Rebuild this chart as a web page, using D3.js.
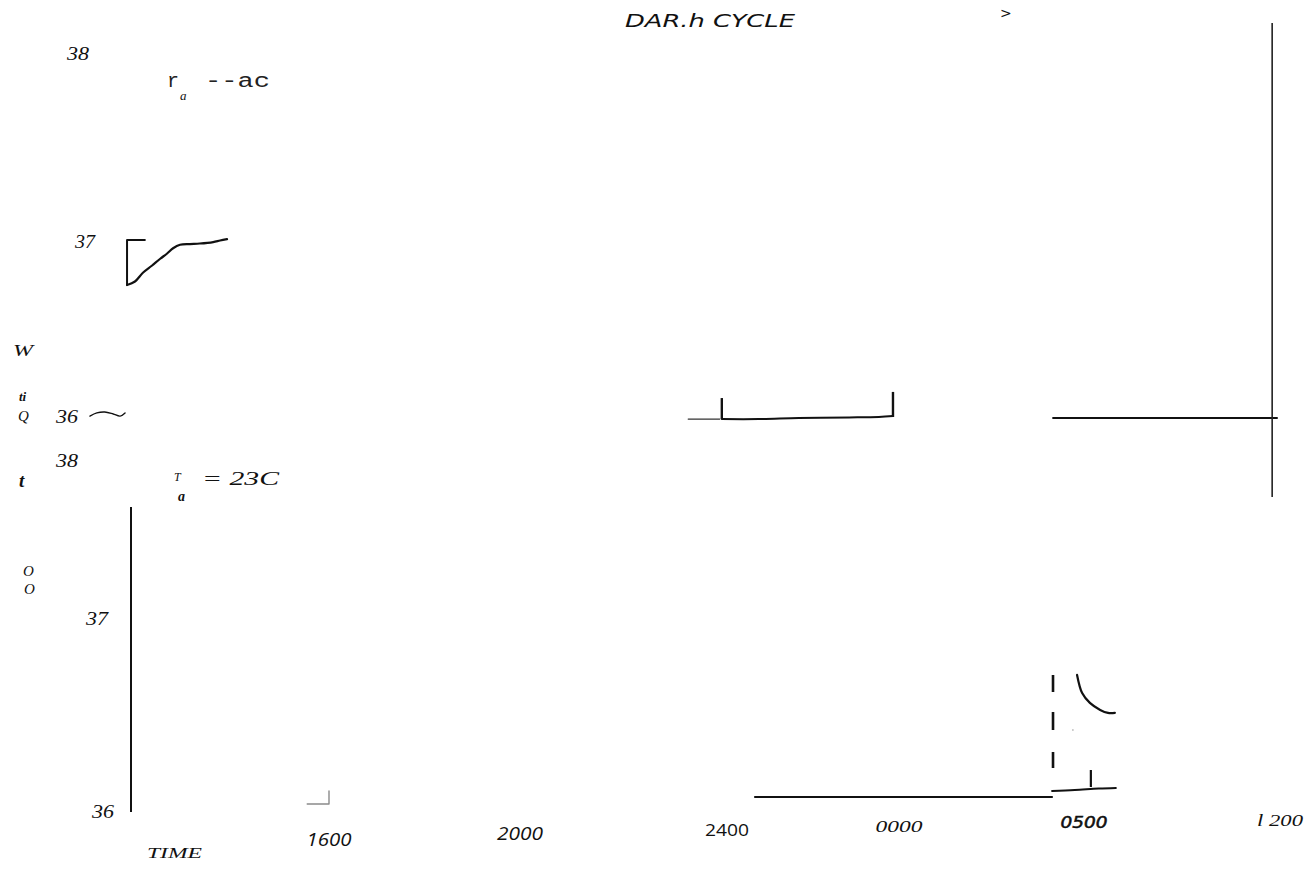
<!DOCTYPE html>
<html>
<head>
<meta charset="utf-8">
<script src="https://cdn.jsdelivr.net/npm/d3@7"></script>
<style>
  html, body { margin: 0; padding: 0; background: #fff; }
  svg { display: block; }
</style>
</head>
<body>
<script>
// ---- data -------------------------------------------------------------
// time axis: hour of the run and the label printed under it
const tickHours  = [16, 20, 24, 28, 32, 36];
const tickLabels = ["1600", "2000", "2400", "0000", "0500", "l 200"];

// temperature ticks (deg C) for the upper and lower panels
const topTempTicks    = [38, 37, 36];
const bottomTempTicks = [38, 37, 36];

// upper panel (Ta = 0C): body temperature traces, [hour, degC]
const topRiseTrace = [[11.92, 36.76], [12.08, 36.78], [12.24, 36.83], [12.42, 36.87],
  [12.59, 36.91], [12.73, 36.94], [12.85, 36.97], [12.99, 36.99], [13.19, 36.994],
  [13.39, 36.997], [13.66, 37.005], [13.80, 37.013], [13.94, 37.02]];
const topOnsetStep = [[12.28, 37.016], [11.92, 37.016], [11.92, 36.76]];
const topLowTrace  = [[11.17, 36.011], [11.31, 36.029], [11.47, 36.034], [11.64, 36.023],
  [11.78, 36.011], [11.88, 36.029]];
const topNightLead  = [[23.25, 35.994], [23.86, 35.994]];
const topNightTrace = [[23.90, 35.994], [24.74, 35.994], [25.67, 36.0], [26.84, 36.003],
  [27.53, 36.006], [27.86, 36.011]];
const topNightMarks = [[23.90, 36.114, 35.994], [27.86, 36.149, 36.006]];
const topMorningTrace = [[31.33, 36.0], [35.94, 36.0]];
const topDayBoundary  = [35.84, 38.158, 35.549];

// lower panel (Ta = 23C): body temperature traces, [hour, degC]
const bottomAxisSpan    = [12, 37.704, 35.979];
const bottomEveningTick = [[15.56, 36.021], [16.0, 36.021], [16.0, 36.09]];
const bottomNightTrace  = [[24.65, 36.058], [31.31, 36.058]];
const bottomDawnTrace   = [[31.31, 36.09], [31.80, 36.095], [32.30, 36.103], [32.65, 36.106]];
const bottomDawnMark    = [32.14, 36.201, 36.111];
const bottomLightsOn    = [31.33, 36.704, 36.212];
const bottomWakeTrace   = [[31.85, 36.704], [31.96, 36.608], [32.12, 36.556], [32.33, 36.519],
  [32.49, 36.503], [32.63, 36.503]];
const bottomStray       = [31.76, 36.413];

// ---- layout -----------------------------------------------------------
const W = 1311, H = 891;
const svg = d3.select("body").append("svg").attr("width", W).attr("height", H);

const x = d3.scaleLinear()
  .domain([12, 16, 20, 24, 28, 32, 36])
  .range([131, 329, 520, 727, 899, 1084, 1280]);
const yTop = d3.scaleLinear().domain([36, 37, 38]).range([418, 243, 53]);
const yBot = d3.scaleLinear().domain([36, 37, 38]).range([808, 619, 460]);

const serif = "'Liberation Serif', 'DejaVu Serif', serif";
const sans  = "'DejaVu Sans', Verdana, sans-serif";
const open  = "'Open Sans', 'Liberation Sans', sans-serif";
const mono  = "'Liberation Mono', 'DejaVu Sans Mono', monospace";

function label(t, o) {
  const el = svg.append("text")
    .attr("x", o.x).attr("y", o.y)
    .attr("font-family", o.family || serif)
    .attr("font-size", o.size || 17)
    .attr("font-style", o.style || "italic")
    .attr("font-weight", o.weight || "normal")
    .attr("fill", o.fill || "#111")
    .attr("text-anchor", o.anchor || "start")
    .text(t);
  if (o.len) el.attr("textLength", o.len).attr("lengthAdjust", "spacingAndGlyphs");
  if (o.thick) el.attr("stroke", o.fill || "#111").attr("stroke-width", o.thick);
  return el;
}

const line = (ys) => d3.line().x(d => x(d[0])).y(d => ys(d[1])).curve(d3.curveCatmullRom);
const poly = (ys) => d3.line().x(d => x(d[0])).y(d => ys(d[1]));

function path(data, gen, w, col) {
  svg.append("path").datum(data).attr("d", gen)
    .attr("fill", "none").attr("stroke", col || "#111")
    .attr("stroke-width", w || 2).attr("stroke-linejoin", "round").attr("stroke-linecap", "round");
}
function vline(h, t0, t1, ys, w, col, dash) {
  const el = svg.append("line")
    .attr("x1", x(h)).attr("x2", x(h)).attr("y1", ys(t0)).attr("y2", ys(t1))
    .attr("stroke", col || "#111").attr("stroke-width", w || 2);
  if (dash) el.attr("stroke-dasharray", dash);
}

// ---- title ------------------------------------------------------------
label("DAR.h CYCLE", { x: 625, y: 27, family: sans, size: 17, len: 170 });
label(">", { x: 1000, y: 18, family: sans, size: 14, style: "normal" });

// ---- upper panel --------------------------------------------------------
const topTickPos = { 38: 67, 37: 75, 36: 56 };
topTempTicks.forEach(t => {
  label(String(t), { x: topTickPos[t], y: yTop(t) + 5 + (t === 38 ? 2 : 0), size: 18, len: t === 37 ? 20 : 22 });
});

label("r", { x: 167, y: 87, family: mono, size: 20, style: "normal", fill: "#222" });
label("a", { x: 180, y: 100, size: 13 });
label("--ac", { x: 205, y: 87, family: mono, size: 20, style: "normal", len: 65, fill: "#222" });

path(topOnsetStep, poly(yTop), 2);
path(topRiseTrace, line(yTop), 2.2);
path(topLowTrace, line(yTop), 1.4);
path(topNightLead, poly(yTop), 1.2, "#333");
path(topNightTrace, line(yTop), 2);
topNightMarks.forEach(m => vline(m[0], m[1], m[2], yTop, 2.4));
path(topMorningTrace, poly(yTop), 1.8);
vline(topDayBoundary[0], topDayBoundary[1], topDayBoundary[2], yTop, 1.6, "#222");

// ---- side labels ----------------------------------------------------------
label("W", { x: 13, y: 356, size: 17, len: 20 });
label("ti", { x: 19, y: 401, size: 13, weight: "bold" });
label("Q", { x: 18, y: 421, size: 15 });
label("t", { x: 19, y: 487, size: 19, weight: "bold" });
label("O", { x: 23, y: 576, size: 15 });
label("O", { x: 24, y: 594, size: 15 });

// ---- lower panel --------------------------------------------------------
const botTickPos = { 38: 56, 37: 86, 36: 92 };
bottomTempTicks.forEach(t => {
  label(String(t), { x: botTickPos[t], y: yBot(t) + (t === 38 ? 7 : 6) + (t === 36 ? 4 : 0), size: 18, len: 22 });
});

label("T", { x: 174, y: 481, size: 12 });
label("a", { x: 178, y: 501, size: 14, weight: "bold" });
label("= 23C", { x: 202, y: 485, size: 19, len: 77 });

vline(bottomAxisSpan[0], bottomAxisSpan[1], bottomAxisSpan[2], yBot, 2);
path(bottomEveningTick, poly(yBot), 1.4, "#8a8a8a");
path(bottomNightTrace, poly(yBot), 2);
path(bottomDawnTrace, line(yBot), 2);
vline(bottomDawnMark[0], bottomDawnMark[1], bottomDawnMark[2], yBot, 2.2);
vline(bottomLightsOn[0], bottomLightsOn[1], bottomLightsOn[2], yBot, 2.6, "#111", "17 20 18 22 16 200");
path(bottomWakeTrace, line(yBot), 2.2);
svg.append("circle").attr("cx", x(bottomStray[0])).attr("cy", yBot(bottomStray[1]))
  .attr("r", 0.8).attr("fill", "#999");

// ---- time axis labels -------------------------------------------------------
const tickFace = [
  { family: open, style: "italic", dy: 846, len: 45, size: 18 },
  { family: open, style: "italic", dy: 840, len: 46, size: 18 },
  { family: open, style: "normal", dy: 836, len: 44 },
  { family: serif, style: "italic", dy: 832, len: 47 },
  { family: sans, style: "italic", dy: 828, len: 47, size: 15, thick: 0.5 },
  { family: serif, style: "italic", dy: 826, len: 46 }
];
tickHours.forEach((h, i) => {
  const f = tickFace[i];
  label(tickLabels[i], { x: x(h), y: f.dy, family: f.family, style: f.style,
    size: f.size || 17, anchor: "middle", len: f.len, thick: f.thick });
});

label("TIME", { x: 147, y: 858, size: 14, len: 55 });
</script>
</body>
</html>
